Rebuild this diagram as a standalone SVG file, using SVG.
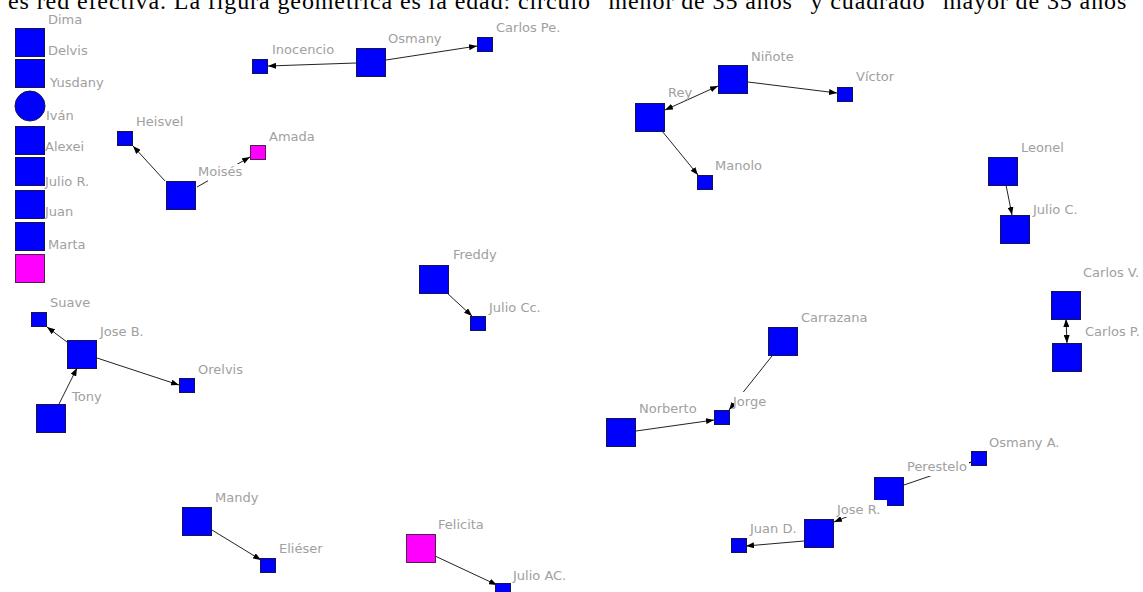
<svg xmlns="http://www.w3.org/2000/svg" width="1143" height="592" viewBox="0 0 1143 592">
<style>
.t{font-family:"DejaVu Sans","Liberation Sans",sans-serif;font-size:13px;fill:#a0a0a0}
.title{font-family:"Liberation Serif","Times New Roman",serif;font-size:24px;fill:#000}
.b{fill:#0000ff;stroke:#141450;stroke-width:1}
.m{fill:#ff00ff;stroke:#502050;stroke-width:1}
.bg{fill:#fff}
.e{stroke:#222;stroke-width:1;fill:none;marker-end:url(#ah)}
.bi{marker-start:url(#ahs)}
</style>
<defs>
<marker id="ah" viewBox="0 0 8 6" refX="8" refY="3" markerWidth="8" markerHeight="6" markerUnits="userSpaceOnUse" orient="auto"><path d="M0,0 L8,3 L0,6 z" fill="#000"/></marker>
<marker id="ahs" viewBox="0 0 8 6" refX="8" refY="3" markerWidth="8" markerHeight="6" markerUnits="userSpaceOnUse" orient="auto-start-reverse"><path d="M0,0 L8,3 L0,6 z" fill="#000"/></marker>
</defs>
<rect width="1143" height="592" fill="#fff"/>
<text class="title" x="8" y="9" textLength="1129" lengthAdjust="spacing">es red efectiva. La figura geométrica es la edad: círculo "menor de 35 años" y cuadrado "mayor de 35 años"</text>

<g id="connectors">
<line class="e" x1="356" y1="63" x2="268" y2="66"/>
<line class="e" x1="386" y1="60" x2="477" y2="46"/>
<line class="e" x1="165" y1="181" x2="133" y2="146"/>
<line class="e" x1="197" y1="187" x2="250" y2="157"/>
<line class="e" x1="748" y1="82" x2="837" y2="93"/>
<line class="e bi" x1="665" y1="110" x2="718" y2="86"/>
<line class="e" x1="662" y1="131" x2="698" y2="175"/>
<line class="e" x1="1006" y1="185" x2="1012" y2="215"/>
<line class="e bi" x1="1066" y1="319" x2="1067" y2="343"/>
<line class="e" x1="67" y1="342" x2="47" y2="327"/>
<line class="e" x1="97" y1="358" x2="179" y2="385"/>
<line class="e" x1="59" y1="404" x2="77" y2="368"/>
<line class="e" x1="447" y1="293" x2="472" y2="316"/>
<line class="e" x1="636" y1="431" x2="714" y2="420"/>
<line class="e" x1="772" y1="356" x2="729" y2="410"/>
<line class="e" x1="904" y1="485" x2="971" y2="462"/>
<line class="e" x1="876" y1="505" x2="834" y2="522"/>
<line class="e" x1="804" y1="541" x2="746" y2="546"/>
<line class="e" x1="212" y1="530" x2="261" y2="560"/>
<line class="e" x1="435" y1="556" x2="497" y2="585"/>
</g>

<g id="dima"><rect class="b" x="15.5" y="28.5" width="29" height="28"/><text class="t" x="48" y="24">Dima</text></g>
<g id="delvis"><rect class="b" x="15.5" y="59.5" width="29" height="28"/><text class="t" x="48" y="55">Delvis</text></g>
<g id="yusdany"><circle class="b" cx="30" cy="106" r="15"/><text class="t" x="50" y="87">Yusdany</text></g>
<g id="ivan"><rect class="b" x="15.5" y="126.5" width="29" height="28"/><text class="t" x="46" y="120">Iván</text></g>
<g id="alexei"><rect class="b" x="15.5" y="157.5" width="29" height="28"/><text class="t" x="45" y="151">Alexei</text></g>
<g id="julior"><rect class="b" x="15.5" y="190.5" width="29" height="28"/><text class="t" x="45" y="186">Julio R.</text></g>
<g id="juan"><rect class="b" x="15.5" y="222.5" width="29" height="28"/><text class="t" x="45" y="216">Juan</text></g>
<g id="marta"><rect class="m" x="15.5" y="254.5" width="29" height="28"/><text class="t" x="48" y="249">Marta</text></g>

<g id="inocencio"><rect class="b" x="252.5" y="59.5" width="15" height="14"/><text class="t" x="272" y="54">Inocencio</text></g>
<g id="osmany"><rect class="b" x="356.5" y="48.5" width="29" height="28"/><text class="t" x="388" y="43">Osmany</text></g>
<g id="carlospe"><rect class="b" x="477.5" y="37.5" width="15" height="14"/><text class="t" x="496" y="32">Carlos Pe.</text></g>
<g id="heisvel"><rect class="b" x="117.5" y="131.5" width="15" height="14"/><text class="t" x="136" y="126">Heisvel</text></g>
<g id="amada"><rect class="m" x="250.5" y="145.5" width="15" height="14"/><text class="t" x="269" y="141">Amada</text></g>
<g id="moises"><rect class="b" x="166.5" y="181.5" width="29" height="28"/><rect class="bg" x="208" y="164" width="37" height="17"/><text class="t" x="198" y="176">Moisés</text></g>

<g id="ninote"><rect class="b" x="718.5" y="65.5" width="29" height="28"/><text class="t" x="751" y="61">Niñote</text></g>
<g id="victor"><rect class="b" x="837.5" y="87.5" width="15" height="14"/><text class="t" x="856" y="81">Víctor</text></g>
<g id="rey"><rect class="b" x="635.5" y="103.5" width="29" height="28"/><text class="t" x="668" y="97">Rey</text></g>
<g id="manolo"><rect class="b" x="697.5" y="175.5" width="15" height="14"/><text class="t" x="715" y="170">Manolo</text></g>

<g id="leonel"><rect class="b" x="988.5" y="157.5" width="29" height="28"/><text class="t" x="1021" y="152">Leonel</text></g>
<g id="julioc"><rect class="b" x="1000.5" y="215.5" width="29" height="28"/><text class="t" x="1033" y="214">Julio C.</text></g>
<g id="carlosv"><rect class="b" x="1051.5" y="291.5" width="29" height="28"/><text class="t" x="1083" y="277">Carlos V.</text></g>
<g id="carlosp"><rect class="b" x="1052.5" y="343.5" width="29" height="28"/><text class="t" x="1085" y="336">Carlos P.</text></g>

<g id="suave"><rect class="b" x="31.5" y="312.5" width="15" height="14"/><text class="t" x="50" y="307">Suave</text></g>
<g id="joseb"><rect class="b" x="67.5" y="340.5" width="29" height="28"/><text class="t" x="100" y="336">Jose B.</text></g>
<g id="orelvis"><rect class="b" x="179.5" y="378.5" width="15" height="14"/><text class="t" x="198" y="374">Orelvis</text></g>
<g id="tony"><rect class="b" x="36.5" y="404.5" width="29" height="28"/><text class="t" x="72" y="401">Tony</text></g>

<g id="freddy"><rect class="b" x="419.5" y="265.5" width="29" height="28"/><text class="t" x="453" y="259">Freddy</text></g>
<g id="juliocc"><rect class="b" x="470.5" y="316.5" width="15" height="14"/><text class="t" x="489" y="312">Julio Cc.</text></g>

<g id="carrazana"><rect class="b" x="768.5" y="327.5" width="29" height="28"/><text class="t" x="801" y="322">Carrazana</text></g>
<g id="jorge"><rect class="b" x="714.5" y="410.5" width="15" height="14"/><rect class="bg" x="734" y="392" width="37" height="16"/><text class="t" x="733" y="406">Jorge</text></g>
<g id="norberto"><rect class="b" x="606.5" y="418.5" width="29" height="28"/><text class="t" x="639" y="413">Norberto</text></g>

<g id="osmanya"><rect class="b" x="971.5" y="451.5" width="15" height="14"/><text class="t" x="989" y="447">Osmany A.</text></g>
<g id="perestelo"><rect class="b" x="874.5" y="477.5" width="29" height="28"/><rect class="bg" x="906" y="459" width="63" height="17"/><text class="t" x="907" y="471">Perestelo</text></g>
<g id="joser"><rect class="b" x="804.5" y="519.5" width="29" height="28"/><rect class="bg" x="845" y="500" width="42" height="17"/><text class="t" x="837" y="514">Jose R.</text></g>
<g id="juand"><rect class="b" x="731.5" y="538.5" width="15" height="14"/><text class="t" x="750" y="533">Juan D.</text></g>

<g id="mandy"><rect class="b" x="182.5" y="507.5" width="29" height="28"/><text class="t" x="215" y="502">Mandy</text></g>
<g id="elieser"><rect class="b" x="260.5" y="558.5" width="15" height="14"/><text class="t" x="279" y="553">Eliéser</text></g>
<g id="felicita"><rect class="m" x="406.5" y="534.5" width="29" height="28"/><text class="t" x="438" y="529">Felicita</text></g>
<g id="julioac"><rect class="b" x="495.5" y="583.5" width="15" height="14"/><text class="t" x="513" y="580">Julio AC.</text></g>
</svg>
